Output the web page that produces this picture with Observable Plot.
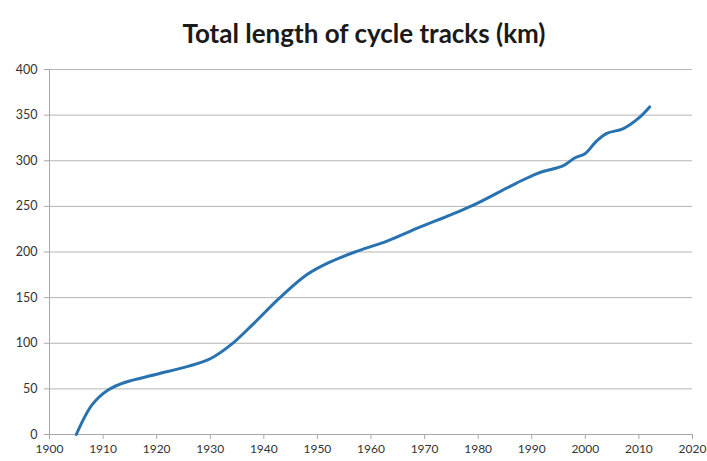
<!DOCTYPE html>
<html><head>
<meta charset="utf-8">
<script src="https://cdn.jsdelivr.net/npm/d3@7"></script>
<script src="https://cdn.jsdelivr.net/npm/@observablehq/plot@0.6"></script>
<style>
body{margin:0;background:#fff;}
#title{height:50px;width:728px;text-align:center;font-family:Lato,"Open Sans",sans-serif;font-weight:bold;font-size:26px;color:#1a1a1a;line-height:26px;padding-top:20px;box-sizing:border-box;}
</style>
</head><body>
<div id="title">Total length of cycle tracks (km)</div>
<div id="chart"></div>
<script>
const years = [1905,1908,1911,1914,1920,1926,1930,1934,1938,1943,1948,1952,1957,1963,1969,1975,1979,1987,1991,1996,1998,2000,2002,2004,2007,2010,2012];
const km    = [0,33,49,57,66,75,83,99,121,150,175,188,200,212,227,241,251,275,286,295,303,308,321,330,335,347,359];
const xTicks = [1900,1910,1920,1930,1940,1950,1960,1970,1980,1990,2000,2010,2020];
const yTicks = [0,50,100,150,200,250,300,350,400];
const data = years.map((y,i)=>({year:y, km:km[i]}));
const chart = Plot.plot({
  width:707, height:411,
  marginTop:19, marginBottom:27, marginLeft:49, marginRight:15,
  style:{fontFamily:"Lato, 'Open Sans', sans-serif", fontSize:"12px", color:"#333", background:"#fff"},
  x:{domain:[1900,2020], label:null},
  y:{domain:[0,400], label:null},
  marks:[
    Plot.gridY(yTicks, {stroke:"#b4b4b4", strokeOpacity:1}),
    Plot.axisY(yTicks, {tickSize:5, tickPadding:7, stroke:"#a8a8a8", fill:"#333", fontSize:12.5, label:null}),
    Plot.axisX(xTicks, {tickSize:5, tickPadding:5, stroke:"#a8a8a8", fill:"#333", fontSize:12, label:null, tickFormat:d=>String(d)}),
    Plot.ruleX([1900], {stroke:"#a8a8a8"}),
    Plot.ruleY([0], {stroke:"#a8a8a8"}),
    Plot.line(data, {x:"year", y:"km", stroke:"#2872b0", strokeWidth:3, curve:"catmull-rom"})
  ]
});
document.getElementById("chart").appendChild(chart);
</script>
</body></html>
